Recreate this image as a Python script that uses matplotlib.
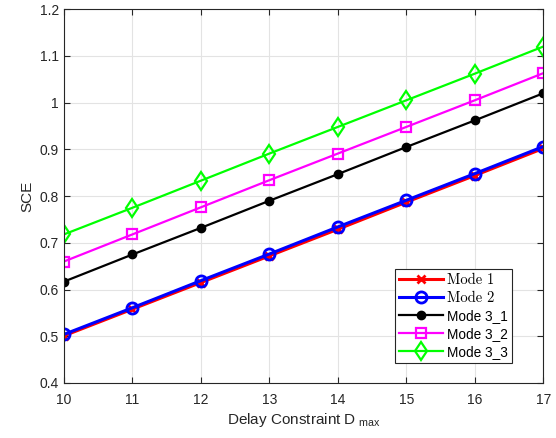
import matplotlib.pyplot as plt
import numpy as np

# delay constraint values
dmax = [10, 11, 12, 13, 14, 15, 16, 17]

mode1 = [0.501, 0.558, 0.615, 0.672, 0.729, 0.787, 0.844, 0.902]
mode2 = [0.504, 0.561, 0.619, 0.676, 0.734, 0.791, 0.848, 0.906]
mode3_1 = [0.617, 0.675, 0.732, 0.790, 0.847, 0.905, 0.962, 1.020]
mode3_2 = [0.660, 0.718, 0.776, 0.834, 0.891, 0.948, 1.005, 1.063]
mode3_3 = [0.718, 0.775, 0.833, 0.891, 0.948, 1.005, 1.062, 1.120]

labels = ['Mode 1', 'Mode 2', 'Mode 3_1', 'Mode 3_2', 'Mode 3_3']

plt.rcParams['font.family'] = 'Liberation Sans'
fig = plt.figure(figsize=(5.56, 4.38), dpi=100)
ax = fig.add_axes([0.115, 0.1256, 0.862, 0.8534])

ax.plot(dmax, mode1, color='red', lw=2.2, marker='x', ms=6, mew=2, label=labels[0])
ax.plot(dmax, mode2, color='blue', lw=2.2, marker='o', ms=8, mew=2, mfc='none', label=labels[1])
ax.plot(dmax, mode3_1, color='black', lw=1.6, marker='o', ms=6, label=labels[2])
ax.plot(dmax, mode3_2, color='magenta', lw=1.6, marker='s', ms=7, mew=1.6, mfc='none', label=labels[3])
ax.plot(dmax, mode3_3, color='#00ff00', lw=1.6, marker='d', ms=9.5, mew=1.6, mfc='none', label=labels[4])

ax.set_xlim(10, 17)
ax.set_ylim(0.4, 1.2)
ax.set_xticks(dmax)
ax.set_yticks(np.arange(0.4, 1.21, 0.1))
ax.set_yticklabels(['0.4', '0.5', '0.6', '0.7', '0.8', '0.9', '1', '1.1', '1.2'])
ax.grid(True, color='#e3e3e3', lw=0.8)
ax.set_axisbelow(True)
ax.tick_params(direction='in', length=4, labelsize=10, colors='#262626', top=True, right=True,
               labeltop=False, labelright=False)
ax.tick_params(axis='x', pad=7)
for s in ax.spines.values():
    s.set_color('#262626')
    s.set_linewidth(0.8)

ax.set_xlabel('Delay Constraint D$_{\\mathregular{\\ max}}$', fontsize=11, color='#262626', labelpad=3)
ax.set_ylabel('SCE', fontsize=11, color='#262626')

leg = ax.legend(loc='lower right', bbox_to_anchor=(0.935, 0.053), borderaxespad=0, fontsize=9.8,
                fancybox=False, edgecolor='#262626', framealpha=1, handlelength=3.2, borderpad=0.3,
                labelspacing=0.3, handletextpad=0.3)
leg.get_frame().set_linewidth(0.8)
for t in leg.get_texts()[:2]:
    t.set_fontfamily('cmr10')
    t.set_fontsize(10.5)

fig.savefig('out.png', dpi=100)
